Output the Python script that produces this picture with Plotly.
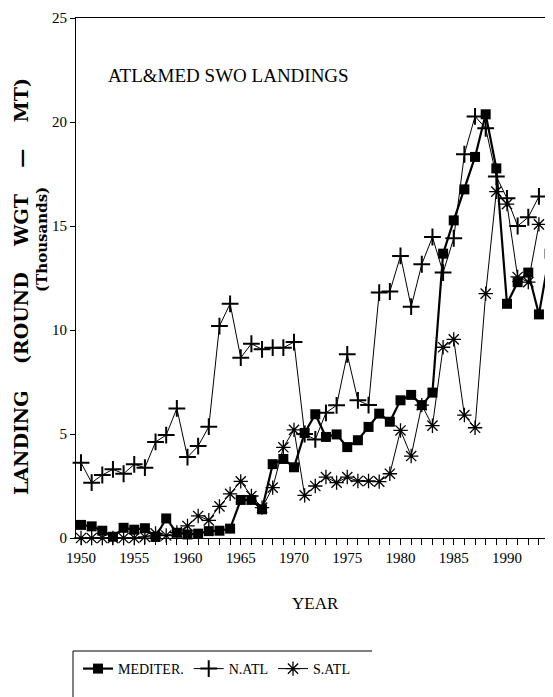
import plotly.graph_objects as go

years = list(range(1950, 1995))

mediter = [0.63, 0.56, 0.35, 0.06, 0.49, 0.40, 0.47, 0.05, 0.94, 0.25,
           0.17, 0.21, 0.33, 0.35, 0.45, 1.83, 1.83, 1.38, 3.55, 3.80,
           3.40, 5.05, 5.95, 4.86, 4.98, 4.37, 4.70, 5.34, 5.98, 5.59,
           6.62, 6.88, 6.39, 6.99, 13.67, 15.27, 16.76, 18.32, 20.37, 17.77,
           11.26, 12.30, 12.76, 10.75, 13.67]

n_atl = [3.62, 2.66, 3.03, 3.30, 3.09, 3.54, 3.38, 4.62, 4.95, 6.23,
         3.89, 4.42, 5.35, 10.19, 11.26, 8.67, 9.34, 9.07, 9.15, 9.15,
         9.42, 5.00, 4.74, 6.02, 6.38, 8.83, 6.62, 6.39, 11.80, 11.85,
         13.56, 11.12, 13.16, 14.47, 12.76, 14.41, 18.45, 20.27, 19.70, 17.38,
         16.33, 15.00, 15.42, 16.42, None]

s_atl = [0.0, 0.0, 0.0, 0.0, 0.0, 0.0, 0.05, 0.22, 0.12, 0.27,
         0.58, 1.06, 0.85, 1.52, 2.12, 2.72, 2.02, 1.46, 2.42, 4.36,
         5.20, 2.05, 2.50, 2.93, 2.66, 2.93, 2.74, 2.74, 2.71, 3.09,
         5.17, 3.94, 6.39, 5.40, 9.17, 9.55, 5.91, 5.30, 11.75, 16.65,
         16.05, 12.55, 12.30, 15.08, None]

series_names = ["MEDITER.", "N.ATL", "S.ATL"]
y_ticks = [0, 5, 10, 15, 20, 25]
x_tick_text = [str(y) if y % 5 == 0 else "" for y in years]

SERIF = "Liberation Serif, Times New Roman, serif"
BOLD_SERIF = "DejaVu Serif, serif"

fig = go.Figure()
fig.add_trace(go.Scatter(
    x=years, y=mediter, name=series_names[0], mode="lines+markers",
    line=dict(color="black", width=2.2),
    marker=dict(symbol="square", size=10, color="black"),
    cliponaxis=False))
fig.add_trace(go.Scatter(
    x=years, y=n_atl, name=series_names[1], mode="lines+markers",
    line=dict(color="black", width=1),
    marker=dict(symbol="cross-thin", size=12, color="black",
                line=dict(color="black", width=2)),
    cliponaxis=False))
fig.add_trace(go.Scatter(
    x=years, y=s_atl, name=series_names[2], mode="lines+markers",
    line=dict(color="black", width=1),
    marker=dict(symbol="asterisk", size=12, color="black",
                line=dict(color="black", width=1.3)),
    cliponaxis=False))

# page offset of the plot div inside the browser window
OFF = 8
L_ref, T_ref, B_ref = 76, 18, 538
W = 553 - OFF
H = 697 - OFF
L = L_ref - OFF
T = T_ref - OFF
B = 697 - B_ref
pw = 553 - L_ref
ph = B_ref - T_ref

def px(xp):
    return (xp - L_ref) / pw

def py(yp):
    return (B_ref - yp) / ph

fig.update_layout(
    width=W, height=H,
    margin=dict(l=L, r=0, t=T, b=B),
    paper_bgcolor="white", plot_bgcolor="white",
    font=dict(family=SERIF, size=14, color="black"),
    showlegend=True,
    legend=dict(orientation="h", x=px(78), y=py(653), xanchor="left", yanchor="top",
                font=dict(family=SERIF, size=14, color="black"),
                bgcolor="rgba(0,0,0,0)", itemwidth=30, tracegroupgap=0),
    xaxis=dict(range=[1949.53, 1994.32], tickmode="array", tickvals=years,
               ticktext=x_tick_text, ticks="outside", ticklen=6, tickwidth=1,
               tickcolor="black", showline=True, linecolor="black", linewidth=1,
               mirror=True, showgrid=False, zeroline=False,
               tickfont=dict(family=SERIF, size=15)),
    yaxis=dict(range=[0, 25], tickmode="array", tickvals=y_ticks,
               ticks="outside", ticklen=5, tickwidth=1, tickcolor="black",
               showline=True, linecolor="black", linewidth=1, showgrid=False,
               zeroline=False, tickfont=dict(family=SERIF, size=15)),
)

fig.add_annotation(text="ATL&amp;MED SWO LANDINGS", xref="paper", yref="paper",
                   x=px(106), y=py(75), xanchor="left", yanchor="middle",
                   showarrow=False, font=dict(family=SERIF, size=19))
fig.add_annotation(text="YEAR", xref="paper", yref="paper",
                   x=px(315), y=py(603), xanchor="center", yanchor="middle",
                   showarrow=False, font=dict(family=SERIF, size=17))
sp = "\u00a0\u00a0\u00a0\u00a0"
fig.add_annotation(text="LANDING" + sp + "(ROUND" + sp + "WGT" + sp + "\u2014" + sp + "MT)",
                   xref="paper", yref="paper", x=px(21), y=py(287),
                   xanchor="center", yanchor="middle", textangle=-90,
                   showarrow=False, font=dict(family=BOLD_SERIF, size=19, weight="bold"))
fig.add_annotation(text="(Thousands)", xref="paper", yref="paper",
                   x=px(42), y=py(240), xanchor="center", yanchor="middle",
                   textangle=-90, showarrow=False,
                   font=dict(family=BOLD_SERIF, size=15, weight="bold"))

# legend frame (top and left edges)
fig.add_shape(type="line", xref="paper", yref="paper",
              x0=px(73), x1=px(372), y0=py(651), y1=py(651),
              line=dict(color="black", width=1))
fig.add_shape(type="line", xref="paper", yref="paper",
              x0=px(73), x1=px(73), y0=py(651), y1=py(710),
              line=dict(color="black", width=1))

fig.write_html("out.html")
